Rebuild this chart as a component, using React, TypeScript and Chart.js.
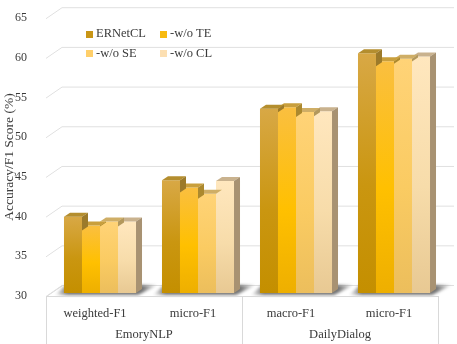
import React, { useEffect, useRef } from "react";
import { Chart, registerables } from "chart.js";

Chart.register(...registerables);

// ---- data ----
const categories = ["weighted-F1", "micro-F1", "macro-F1", "micro-F1"];
const groupNames = ["EmoryNLP", "DailyDialog"];
const groupSpans = [2, 2];
const seriesNames = ["ERNetCL", "-w/o TE", "-w/o SE", "-w/o CL"];
const ernetcl = [39.6, 44.2, 53.2, 60.2];
const woTE = [38.5, 43.3, 53.4, 59.2];
const woSE = [39.0, 42.5, 52.8, 59.5];
const woCL = [39.0, 44.1, 52.9, 59.8];
const yMin = 30;
const yMax = 65;
const yStep = 5;
const yTitle = "Accuracy/F1 Score (%)";

// ---- styles ----
const FONT = "'Liberation Serif', 'Times New Roman', serif";
const TEXT = "#3A3A3A";
const GRID = "#E0E0E0";
const frontTop = ["#D8A845", "#FABF40", "#FFD377", "#FFE7BE"];
const frontMid = ["#CA9610", "#FFC000", "#FACB62", "#F7DCAA"];
const frontBottom = ["#C48F00", "#EEAF00", "#ECBE5C", "#E8C993"];
const topFace = ["#B48E2E", "#C99F3C", "#CFAE66", "#C9B28E"];
const sideFace = ["#9C7A2A", "#AC892E", "#B3985C", "#A89272"];
const legendColor = ["#C99616", "#F7BA10", "#FFCF6A", "#FCDFB2"];

const WALL_DX = 16;
const WALL_DY = 11;
const BAR_TX = 5;
const BAR_TY = 3;
const BAR_DX = 6;
const BAR_DY = 4;

const seriesValues = [ernetcl, woTE, woSE, woCL];

const threeD = {
  id: "threeD",
  beforeDatasetsDraw(chart: any) {
    const { ctx, chartArea: a, scales } = chart;
    const ys = scales.y;
    ctx.save();
    // floor
    ctx.beginPath();
    ctx.moveTo(a.left, a.bottom);
    ctx.lineTo(a.right, a.bottom);
    ctx.lineTo(a.right + WALL_DX, a.bottom - WALL_DY);
    ctx.lineTo(a.left + WALL_DX, a.bottom - WALL_DY);
    ctx.closePath();
    ctx.fillStyle = "#FFFFFF";
    ctx.fill();
    ctx.strokeStyle = "#D9D9D9";
    ctx.lineWidth = 1;
    ctx.beginPath();
    ctx.moveTo(a.left + WALL_DX + 0.5, a.bottom - WALL_DY + 0.5);
    ctx.lineTo(a.left + 0.5, a.bottom + 0.5);
    ctx.stroke();
    // grid lines: left wall diagonal + back wall
    ys.ticks.forEach((t: any) => {
      const y = ys.getPixelForValue(t.value);
      ctx.strokeStyle = GRID;
      ctx.beginPath();
      ctx.moveTo(a.left, y + 0.5);
      ctx.lineTo(a.left + WALL_DX, y - WALL_DY + 0.5);
      ctx.lineTo(a.right + WALL_DX, y - WALL_DY + 0.5);
      ctx.stroke();
    });
    // floor shadows
    const n = categories.length;
    const meta0 = chart.getDatasetMeta(0);
    const metaN = chart.getDatasetMeta(chart.data.datasets.length - 1);
    for (let i = 0; i < n; i++) {
      const e0 = meta0.data[i];
      const eN = metaN.data[i];
      if (!e0 || !eN) continue;
      const xl = e0.x - e0.width / 2 + BAR_TX;
      const xr = eN.x + eN.width / 2 + BAR_TX;
      const yb = a.bottom - BAR_TY;
      ctx.save();
      (ctx as any).filter = "blur(1.5px)";
      const g = ctx.createLinearGradient(xl - 9, 0, xr + BAR_DX + 16, 0);
      g.addColorStop(0, "rgba(70,70,70,0.0)");
      g.addColorStop(0.12, "rgba(70,70,70,0.75)");
      g.addColorStop(0.85, "rgba(70,70,70,0.75)");
      g.addColorStop(1, "rgba(70,70,70,0.0)");
      ctx.fillStyle = g;
      ctx.beginPath();
      ctx.moveTo(xl - 9, yb + 2);
      ctx.lineTo(xr + 2, yb + 2);
      ctx.lineTo(xr + BAR_DX + 16, yb - BAR_DY - 4);
      ctx.lineTo(xl + 2, yb - BAR_DY - 4);
      ctx.closePath();
      ctx.fill();
      ctx.restore();
    }
    ctx.restore();
    ctx.save();
    ctx.translate(BAR_TX, -BAR_TY);
  },
  afterDatasetDraw(chart: any, args: any) {
    const { ctx } = chart;
    const di = args.index;
    const nextMeta = di + 1 < chart.data.datasets.length ? chart.getDatasetMeta(di + 1) : null;
    args.meta.data.forEach((el: any, j: number) => {
      const xl = el.x - el.width / 2;
      const xr = el.x + el.width / 2;
      const yt = el.y;
      let yb = el.base;
      const nx = nextMeta ? nextMeta.data[j] : null;
      if (nx) yb = Math.min(yb, nx.y + BAR_DY + 1);
      ctx.beginPath();
      ctx.moveTo(xl, yt);
      ctx.lineTo(xr, yt);
      ctx.lineTo(xr + BAR_DX, yt - BAR_DY);
      ctx.lineTo(xl + BAR_DX, yt - BAR_DY);
      ctx.closePath();
      ctx.fillStyle = topFace[di];
      ctx.fill();
      if (yb > yt) {
        ctx.beginPath();
        ctx.moveTo(xr, yt);
        ctx.lineTo(xr + BAR_DX, yt - BAR_DY);
        ctx.lineTo(xr + BAR_DX, yb - BAR_DY);
        ctx.lineTo(xr, yb);
        ctx.closePath();
        ctx.fillStyle = sideFace[di];
        ctx.fill();
      }
    });
  },
  afterDatasetsDraw(chart: any) {
    chart.ctx.restore();
  },
  afterDraw(chart: any) {
    const { ctx, chartArea: a, scales } = chart;
    const xs = scales.x;
    const n = categories.length;
    ctx.save();
    // category axis box
    ctx.strokeStyle = "#D9D9D9";
    ctx.lineWidth = 1;
    ctx.beginPath();
    ctx.moveTo(a.left, a.bottom + 0.5);
    ctx.lineTo(a.right, a.bottom + 0.5);
    ctx.stroke();
    const boundary = (k: number) =>
      k === 0 ? a.left : k === n ? a.right : (xs.getPixelForValue(k - 1) + xs.getPixelForValue(k)) / 2;
    let k = 0;
    const bounds = [0];
    groupSpans.forEach((s) => {
      k += s;
      bounds.push(k);
    });
    bounds.forEach((b) => {
      const x = Math.round(boundary(b)) + 0.5;
      ctx.beginPath();
      ctx.moveTo(x, a.bottom);
      ctx.lineTo(x, chart.height);
      ctx.stroke();
    });
    ctx.fillStyle = TEXT;
    ctx.font = `12.5px ${FONT}`;
    ctx.textAlign = "center";
    ctx.textBaseline = "middle";
    categories.forEach((c, i) => {
      ctx.fillText(c, xs.getPixelForValue(i), a.bottom + 17.5);
    });
    groupNames.forEach((g, gi) => {
      const x0 = boundary(bounds[gi]);
      const x1 = boundary(bounds[gi + 1]);
      ctx.fillText(g, (x0 + x1) / 2, a.bottom + 38.5);
    });
    // legend
    ctx.textAlign = "left";
    chart.data.datasets.forEach((ds: any, i: number) => {
      const row = Math.floor(i / 2);
      const col = i % 2;
      const bx = 86 + col * 74;
      const cy = 34 + row * 19.5;
      ctx.fillStyle = legendColor[i];
      ctx.fillRect(bx, Math.round(cy - 3.5), 7, 7);
      ctx.fillStyle = TEXT;
      ctx.fillText(ds.label, bx + 10, cy);
    });
    ctx.restore();
  },
};

export default function App() {
  const ref = useRef<HTMLCanvasElement | null>(null);
  useEffect(() => {
    if (!ref.current) return;
    const chart = new Chart(ref.current, {
      type: "bar",
      data: {
        labels: categories,
        datasets: seriesValues.map((vals, i) => ({
          label: seriesNames[i],
          data: vals,
          base: yMin,
          borderWidth: 0,
          backgroundColor: (c: any) => {
            const ch = c.chart;
            if (!ch.chartArea || c.type !== "data" || !ch.scales.y) return frontMid[i];
            const ys = ch.scales.y;
            const top = ys.getPixelForValue(c.raw);
            const base = ys.getPixelForValue(yMin);
            if (!isFinite(top) || !isFinite(base) || base - top < 1) return frontMid[i];
            const g = ch.ctx.createLinearGradient(0, top, 0, base);
            g.addColorStop(0, frontTop[i]);
            g.addColorStop(0.55, frontMid[i]);
            g.addColorStop(1, frontBottom[i]);
            return g;
          },
          categoryPercentage: 0.735,
          barPercentage: 1.0,
        })),
      },
      options: {
        responsive: false,
        animation: false,
        layout: { padding: { left: 0, top: 16, right: 19, bottom: 48 } },
        plugins: { legend: { display: false }, tooltip: { enabled: false } },
        scales: {
          x: { display: false },
          y: {
            min: yMin,
            max: yMax,
            grid: { display: false },
            border: { display: false },
            ticks: {
              stepSize: yStep,
              padding: 11,
              color: TEXT,
              font: { family: FONT, size: 12 },
            },
            title: {
              display: true,
              text: yTitle,
              color: TEXT,
              padding: { top: 1.5, bottom: 0 },
              font: { family: FONT, size: 13.5 },
            },
            afterFit: (s: any) => {
              s.width = 46;
            },
          },
        },
      },
      plugins: [threeD],
    });
    return () => chart.destroy();
  }, []);
  return (
    <div style={{ position: "fixed", left: 0, top: 0, width: 457, height: 344, background: "#fff" }}>
      <canvas ref={ref} width={457} height={344} style={{ display: "block" }} />
    </div>
  );
}
